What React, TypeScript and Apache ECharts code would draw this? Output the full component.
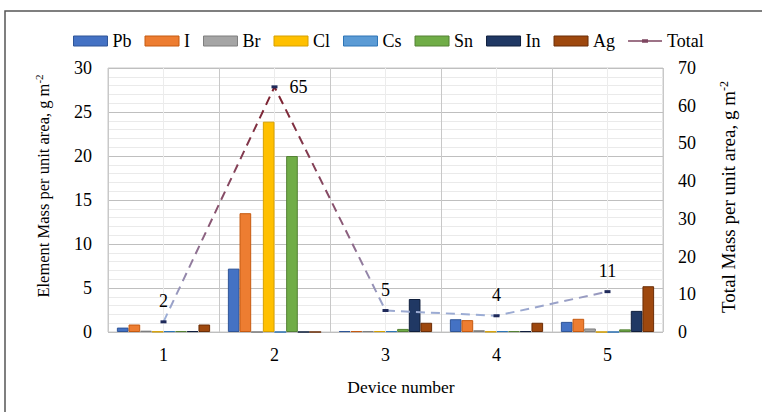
import React, { useEffect, useRef } from "react";
import * as echarts from "echarts";

const categories = ["1", "2", "3", "4", "5"];
const pb = [0.5, 7.2, 0.1, 1.45, 1.15];
const iod = [0.85, 13.5, 0.1, 1.35, 1.5];
const br = [0.15, 0, 0.1, 0.2, 0.4];
const cl = [0.05, 23.9, 0.1, 0.05, 0];
const cs = [0.1, 0, 0.1, 0.1, 0];
const sn = [0.1, 20, 0.35, 0.1, 0.3];
const inn = [0.1, 0, 3.75, 0.1, 2.4];
const ag = [0.85, 0, 1.05, 1.05, 5.2];
const total = [2.7, 65, 5.7, 4.3, 10.7];
const totalLabels = ["2", "65", "5", "4", "11"];
const leftTicks = [0, 5, 10, 15, 20, 25, 30];
const rightTicks = [0, 10, 20, 30, 40, 50, 60, 70];

const FONT = "Liberation Serif";

const barDefs = [
  { name: "Pb", data: pb, color: "#4472C4", border: "#2F5597" },
  { name: "I", data: iod, color: "#ED7D31", border: "#C55A11" },
  { name: "Br", data: br, color: "#A5A5A5", border: "#7F7F7F" },
  { name: "Cl", data: cl, color: "#FFC000", border: "#D6A000" },
  { name: "Cs", data: cs, color: "#5B9BD5", border: "#2E75B6" },
  { name: "Sn", data: sn, color: "#70AD47", border: "#548235" },
  { name: "In", data: inn, color: "#203864", border: "#0F1E3C" },
  { name: "Ag", data: ag, color: "#9E480E", border: "#6B2D06" },
];

export default function App() {
  const ref = useRef<HTMLDivElement>(null);
  useEffect(() => {
    if (!ref.current) return;
    const chart = echarts.init(ref.current, null, { renderer: "svg" });
    const series: any[] = barDefs.map((b) => ({
      name: b.name,
      type: "bar",
      data: b.data,
      xAxisIndex: 0,
      yAxisIndex: 0,
      barGap: "0%",
      barCategoryGap: "16%",
      itemStyle: { color: b.color, borderColor: b.border, borderWidth: 1 },
    }));
    series.push({
      name: "Total",
      type: "line",
      xAxisIndex: 0,
      yAxisIndex: 1,
      data: total.map((v, i) => ({
        value: v,
        label: {
          show: true,
          formatter: totalLabels[i],
          position: i === 1 ? "right" : "top",
          distance: i === 1 ? 12 : 10,
        },
      })),
      symbol: "rect",
      symbolSize: [6, 3],
      itemStyle: { color: "#1F2A5A" },
      lineStyle: {
        width: 2,
        type: [9, 6],
        color: new echarts.graphic.LinearGradient(0, 0, 0, 1, [
          { offset: 0, color: "#7B1E2B" },
          { offset: 0.6, color: "#8A5A78" },
          { offset: 1, color: "#9DB3DC" },
        ]),
      },
      label: { fontFamily: FONT, fontSize: 18, color: "#000" },
      z: 5,
    });

    const supStyle = {
      fontFamily: FONT,
      fontSize: 11,
      verticalAlign: "top",
      fill: "#000",
      color: "#000",
      padding: [0, 0, 8, 0],
    };

    chart.setOption({
      animation: false,
      backgroundColor: "#fff",
      textStyle: { fontFamily: FONT },
      legend: {
        top: 32,
        left: 73,
        padding: 0,
        itemWidth: 34,
        itemHeight: 10,
        itemGap: 13,
        icon: "rect",
        textStyle: { fontFamily: FONT, fontSize: 18, color: "#000" },
        data: [
          ...barDefs.map((b) => ({
            name: b.name,
            itemStyle: { color: b.color, borderColor: b.border, borderWidth: 1 },
          })),
          {
            name: "Total",
            icon: "path://M0,4.2 L34,4.2 L34,5.8 L0,5.8 Z M14,3.2 L20,3.2 L20,6.8 L14,6.8 Z",
            itemStyle: { color: "#7E4660" },
          },
        ],
      },
      grid: {
        left: 108,
        right: 99,
        top: 68,
        bottom: 80,
        show: true,
        borderColor: "#C8C8C8",
        borderWidth: 1,
      },
      xAxis: [
        {
          type: "category",
          data: categories,
          boundaryGap: true,
          axisLine: { show: false },
          axisTick: { show: false },
          axisLabel: { fontFamily: FONT, fontSize: 18, color: "#000", margin: 14 },
          splitLine: { show: false },
        },
        {
          type: "value",
          min: 0,
          max: 10,
          interval: 1,
          show: true,
          position: "bottom",
          axisLine: { show: false },
          axisTick: { show: false },
          axisLabel: { show: false },
          splitLine: {
            show: true,
            lineStyle: { color: ["#C8C8C8", "#ECECEC"], width: 1 },
          },
        },
      ],
      yAxis: [
        {
          type: "value",
          min: leftTicks[0],
          max: leftTicks[leftTicks.length - 1],
          interval: 5,
          axisLine: { show: false },
          axisTick: { show: false },
          axisLabel: { fontFamily: FONT, fontSize: 18, color: "#000", margin: 16 },
          splitLine: { show: true, lineStyle: { color: "#BFBFBF", width: 1 } },
          minorTick: { show: false, splitNumber: 5 },
          minorSplitLine: { show: true, lineStyle: { color: "#EAEAEA", width: 1 } },
        },
        {
          type: "value",
          min: rightTicks[0],
          max: rightTicks[rightTicks.length - 1],
          interval: 10,
          position: "right",
          axisLine: { show: false },
          axisTick: { show: false },
          axisLabel: { fontFamily: FONT, fontSize: 18, color: "#000", margin: 15 },
          splitLine: { show: false },
        },
      ],
      graphic: [
        {
          type: "rect",
          shape: { x: 5, y: 11, width: 820, height: 460 },
          style: { fill: "none", stroke: "#555", lineWidth: 1.5 },
          z: 100,
          silent: true,
        },
        {
          type: "text",
          x: 401,
          y: 387,
          style: {
            text: "Device number",
            font: `17.5px ${FONT}`,
            fill: "#000",
            textAlign: "center",
            textVerticalAlign: "middle",
          },
        },
        {
          type: "text",
          x: 43,
          y: 186,
          rotation: Math.PI / 2,
          style: {
            text: "Element Mass per unit area, g m{sup|-2}",
            font: `16.5px ${FONT}`,
            fill: "#000",
            align: "center",
            verticalAlign: "middle",
            rich: { sup: supStyle },
          },
        },
        {
          type: "text",
          x: 728,
          y: 197,
          rotation: Math.PI / 2,
          style: {
            text: "Total Mass per unit area, g m{sup|-2}",
            font: `19px ${FONT}`,
            fill: "#000",
            align: "center",
            verticalAlign: "middle",
            rich: { sup: { ...supStyle, fontSize: 12, padding: [0, 0, 9, 0] } },
          },
        },
      ],
      series,
    });
    return () => chart.dispose();
  }, []);
  return (
    <div
      ref={ref}
      style={{ position: "absolute", left: 0, top: 0, width: 762, height: 412 }}
    />
  );
}
